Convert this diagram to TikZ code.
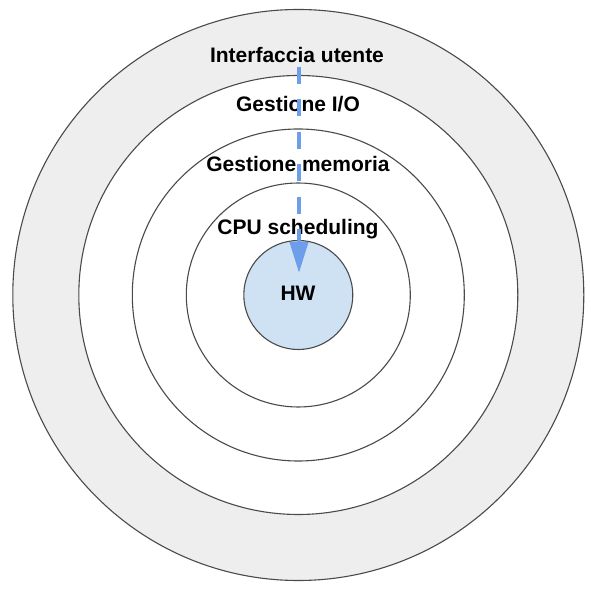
\documentclass[tikz,border=0pt]{standalone}
\usepackage{fontspec}
\setmainfont{Liberation Sans}
\usetikzlibrary{arrows.meta}
\definecolor{ringgray}{HTML}{EEEEEE}
\definecolor{hwblue}{HTML}{CFE2F3}
\definecolor{arrowblue}{HTML}{6D9EEB}
\definecolor{strokegray}{HTML}{4A4A4A}
\begin{document}
\begin{tikzpicture}[x=1pt,y=1pt,
  ring/.style={circle, draw=strokegray, line width=1.1pt, inner sep=0pt, outer sep=0pt},
  lbl/.style={anchor=base, font=\fontsize{21}{25}\selectfont\bfseries, inner sep=0pt}]
\useasboundingbox (0,0) rectangle (591,589);
\coordinate (ctr) at (298.3,294);
\node[ring, fill=ringgray, minimum size=571pt] (l1) at (ctr) {};
\node[ring, fill=white, minimum size=439pt] (l2) at (ctr) {};
\node[ring, fill=white, minimum size=332pt] (l3) at (ctr) {};
\node[ring, fill=white, minimum size=224pt] (l4) at (ctr) {};
\node[ring, fill=hwblue, minimum size=109pt] (hw) at (ctr) {};
\node[lbl] (t1) at (297,526.3) {Interfaccia utente};
\node[lbl] (t2) at (298,477) {Gestione I/O};
\node[lbl] (t3) at (298,417) {Gestione memoria};
\node[lbl] (t4) at (298,354) {CPU scheduling};
\node[lbl] (t5) at (298,288) {HW};
\coordinate (astart) at (299,522);
\coordinate (aend) at (299,316);
\draw[arrowblue, line width=4pt, dash pattern=on 17pt off 15.5pt,
  -{Triangle[length=31pt,width=18pt]}] (astart) -- (aend);
\end{tikzpicture}
\end{document}
